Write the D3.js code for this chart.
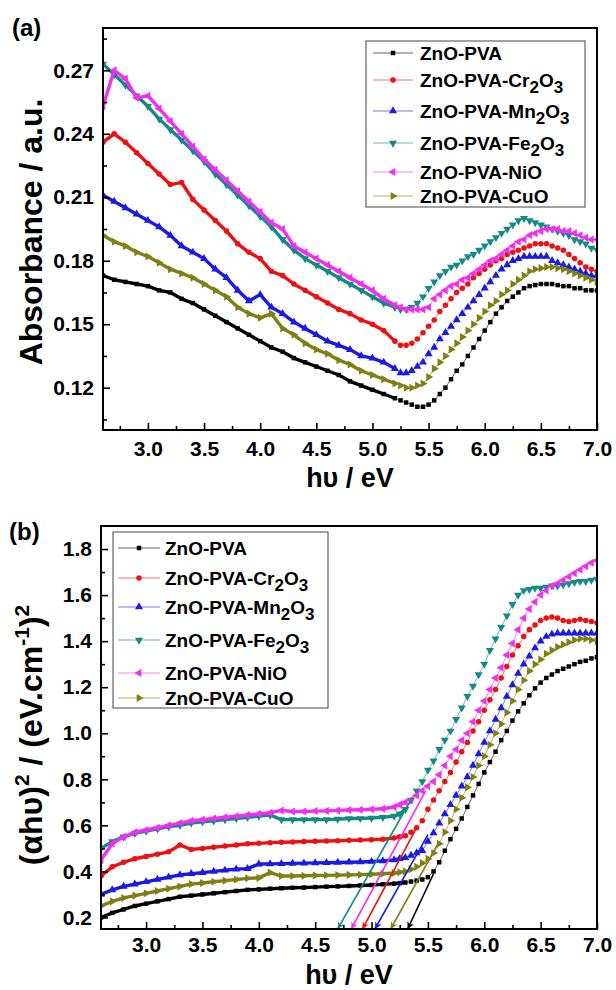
<!DOCTYPE html>
<html>
<head>
<meta charset="utf-8">
<script src="https://cdn.jsdelivr.net/npm/d3@7"></script>
<style>
  body { margin: 0; background: #fff; }
  text { font-family: "Liberation Sans", Arial, sans-serif; font-weight: bold; fill: #000; }
</style>
</head>
<body>
<svg id="chart" width="616" height="990"></svg>
<script>
// photon energy grid (eV), shared by both panels
const energy = [2.6,2.7,2.8,2.9,3.0,3.1,3.2,3.3,3.4,3.5,3.6,3.7,3.8,3.9,4.0,4.1,4.2,4.3,4.4,4.5,4.6,4.7,4.8,4.9,5.0,5.1,5.2,
  5.25,5.3,5.35,5.4,5.45,5.5,5.55,5.6,5.65,5.7,5.75,5.8,5.85,5.9,5.95,6.0,6.05,6.1,6.15,6.2,6.25,6.3,6.35,6.4,6.45,6.5,
  6.55,6.6,6.65,6.7,6.75,6.8,6.85,6.9,6.95,7.0]

const sampleNames = ['ZnO-PVA','ZnO-PVA-Cr_2O_3','ZnO-PVA-Mn_2O_3','ZnO-PVA-Fe_2O_3','ZnO-PVA-NiO','ZnO-PVA-CuO']

// (a) absorbance
const absZnO = [.173,.171,.170,.169,.168,.166,.165,.162,.160,.157,.154,.151,.148,.145,.142,.139,.137,.134,.132,.130,.128,.126,.123,.121,.119,.117,.115,
  .114,.113,.112,.111,.111,.112,.114,.117,.120,.124,.128,.131,.135,.139,.143,.147,.151,.155,.158,.161,.163,.165,.167,.168,.1685,.169,
  .169,.169,.1685,.168,.168,.167,.167,.166,.166,.166]
const absCr = [.236,.240,.236,.231,.226,.221,.216,.217,.209,.204,.199,.194,.188,.184,.181,.175,.173,.169,.166,.163,.160,.157,.155,.152,.150,.147,.142,
  .140,.140,.141,.143,.146,.149,.152,.156,.159,.162,.165,.167,.169,.172,.174,.176,.178,.180,.181,.183,.184,.185,.186,.187,.188,.188,
  .188,.187,.186,.185,.183,.181,.179,.177,.176,.175]
const absMn = [.211,.208,.205,.202,.199,.196,.192,.187,.184,.181,.176,.172,.166,.161,.164,.158,.155,.151,.148,.145,.142,.140,.138,.135,.134,.132,.129,
  .127,.127,.128,.130,.132,.136,.139,.143,.146,.149,.152,.155,.158,.161,.164,.167,.170,.173,.176,.178,.180,.181,.182,.182,.182,.182,
  .182,.180,.179,.178,.177,.176,.175,.174,.173,.173]
const absFe = [.273,.268,.263,.258,.253,.247,.242,.237,.232,.227,.221,.216,.211,.206,.201,.196,.190,.185,.181,.178,.175,.172,.169,.166,.163,.160,.158,
  .157,.157,.158,.160,.163,.167,.170,.173,.175,.177,.178,.180,.182,.183,.185,.187,.189,.191,.193,.195,.197,.199,.200,.199,.198,.197,
  .196,.195,.194,.193,.192,.190,.189,.188,.186,.185]
const absNi = [.253,.270,.266,.257,.258,.252,.246,.240,.234,.228,.223,.218,.213,.208,.203,.198,.195,.187,.184,.181,.178,.175,.172,.169,.166,.162,.159,
  .158,.157,.157,.157,.157,.158,.162,.164,.166,.168,.169,.171,.172,.174,.176,.178,.180,.181,.183,.185,.187,.189,.190,.192,.193,.194,
  .195,.195,.195,.194,.194,.193,.192,.191,.190,.190]
const absCu = [.192,.189,.187,.184,.182,.179,.176,.174,.172,.169,.166,.163,.158,.155,.153,.155,.148,.145,.141,.138,.136,.133,.131,.128,.126,.124,.122,
  .121,.120,.120,.121,.122,.125,.129,.132,.135,.138,.141,.144,.147,.150,.153,.156,.159,.161,.164,.166,.169,.171,.173,.175,.176,.1765,
  .177,.177,.1765,.176,.175,.174,.173,.172,.171,.170]

// (b) (alpha h nu)^2
const taucZnO = [.200,.220,.235,.250,.260,.270,.280,.290,.295,.300,.305,.310,.315,.320,.322,.325,.327,.329,.330,.332,.334,.335,.337,.339,.341,.344,.347,
  .349,.352,.356,.360,.365,.375,.400,.440,.490,.540,.585,.630,.680,.730,.780,.830,.875,.920,.970,1.010,1.055,1.095,1.130,1.165,1.195,1.220,
  1.240,1.255,1.270,1.280,1.290,1.300,1.310,1.315,1.325,1.330]
const taucCr = [.380,.420,.440,.455,.465,.475,.485,.515,.495,.500,.505,.510,.515,.520,.522,.525,.527,.528,.530,.531,.532,.533,.535,.536,.538,.540,.545,
  .550,.555,.570,.590,.620,.670,.710,.750,.790,.830,.875,.920,.960,1.010,1.050,1.100,1.145,1.190,1.240,1.290,1.340,1.380,1.420,1.450,1.470,1.490,
  1.500,1.505,1.500,1.490,1.485,1.490,1.495,1.490,1.485,1.480]
const taucMn = [.300,.320,.335,.345,.355,.365,.375,.385,.390,.395,.400,.405,.410,.412,.432,.433,.434,.435,.436,.437,.438,.439,.440,.441,.443,.446,.450,
  .455,.460,.470,.480,.490,.530,.567,.610,.650,.690,.730,.770,.810,.860,.910,.960,1.010,1.060,1.110,1.160,1.210,1.260,1.300,1.335,1.370,1.400,
  1.420,1.430,1.435,1.435,1.435,1.435,1.435,1.435,1.435,1.435]
const taucFe = [.500,.530,.550,.565,.575,.585,.595,.600,.610,.615,.620,.625,.630,.635,.640,.645,.625,.625,.625,.625,.625,.627,.630,.630,.632,.635,.640,
  .650,.670,.710,.750,.790,.840,.880,.930,.970,1.010,1.060,1.110,1.160,1.205,1.255,1.300,1.360,1.410,1.460,1.510,1.560,1.600,1.620,1.625,1.630,1.630,
  1.635,1.640,1.640,1.645,1.650,1.655,1.660,1.660,1.665,1.670]
const taucNi = [.450,.520,.550,.570,.580,.590,.600,.610,.620,.625,.630,.635,.640,.645,.650,.655,.665,.660,.660,.662,.663,.665,.667,.668,.670,.672,.680,
  .690,.700,.710,.730,.750,.770,.790,.820,.860,.900,.930,.970,1.000,1.050,1.100,1.140,1.190,1.240,1.285,1.340,1.390,1.450,1.500,1.540,1.570,1.600,
  1.620,1.640,1.650,1.665,1.680,1.695,1.710,1.725,1.740,1.750]
const taucCu = [.250,.270,.285,.295,.305,.315,.325,.335,.345,.350,.355,.360,.365,.370,.372,.395,.380,.380,.381,.382,.383,.384,.385,.386,.388,.390,.393,
  .396,.400,.410,.420,.437,.455,.480,.520,.570,.620,.670,.720,.765,.810,.860,.900,.950,1.000,1.040,1.090,1.140,1.190,1.230,1.270,1.300,1.320,
  1.345,1.360,1.375,1.385,1.395,1.405,1.410,1.410,1.405,1.400]

// band-gap tangents in (b): start point on the curve and x-intercept (eV)
const tangentFrom = [[5.55,0.39],[5.40,0.59],[5.50,0.56],[5.36,0.72],[5.48,0.75],[5.60,0.53]]
const tangentGap = [5.32,4.92,5.03,4.70,4.82,5.17]

const colors = ['#000000','#ee1111','#1a1ae6','#138a85','#f22ef2','#808012']
const shapes = [
  {type: d3.symbolSquare, size: 20, rot: 0},
  {type: d3.symbolCircle, size: 24, rot: 0},
  {type: d3.symbolTriangle, size: 28, rot: 0},
  {type: d3.symbolTriangle, size: 28, rot: 180},
  {type: d3.symbolTriangle, size: 28, rot: -90},
  {type: d3.symbolTriangle, size: 28, rot: 90}
]

const svg = d3.select('#chart')

// arrow heads, one per colour
const defs = svg.append('defs')
colors.forEach((c, i) => {
  defs.append('marker')
    .attr('id', 'arrow' + i)
    .attr('viewBox', '0 0 10 10')
    .attr('refX', 10).attr('refY', 5)
    .attr('markerWidth', 9).attr('markerHeight', 7)
    .attr('markerUnits', 'userSpaceOnUse')
    .attr('orient', 'auto')
    .append('path')
    .attr('d', 'M0,0 L10,5 L0,10 L3,5 Z')
    .attr('fill', c)
})

// writes "Cr_2O_3" style labels with subscripts
function richText(sel, label, subSize) {
  let down = false
  label.split(/(_\d)/).filter(p => p.length).forEach(p => {
    if (p[0] === '_') {
      sel.append('tspan').attr('dy', 6).attr('font-size', subSize).text(p.slice(1))
      down = true
    } else {
      sel.append('tspan').attr('dy', down ? -6 : 0).text(p)
      down = false
    }
  })
}

function Panel(cfg) {
  const b = cfg.box
  const x = d3.scaleLinear().domain([2.6, 7.0]).range([b.left, b.right])
  const y = d3.scaleLinear().domain(cfg.yDomain).range([b.bottom, b.top])

  const g = svg.append('g')

  g.append('clipPath').attr('id', 'clip' + cfg.id)
    .append('rect')
    .attr('x', b.left).attr('y', b.top)
    .attr('width', b.right - b.left).attr('height', b.bottom - b.top)

  const plot = g.append('g').attr('clip-path', `url(#clip${cfg.id})`)

  const line = d3.line().x(d => x(d[0])).y(d => y(d[1]))

  cfg.series.forEach((vals, i) => {
    const pts = energy.map((e, j) => [e, vals[j]])
    // dense part of the scan looks like a thick band
    plot.append('path')
      .datum(pts.filter(d => d[0] <= cfg.denseEnd))
      .attr('d', line)
      .attr('fill', 'none')
      .attr('stroke', colors[i])
      .attr('stroke-width', 3.4)
      .attr('stroke-linejoin', 'round')
    plot.append('path')
      .datum(pts)
      .attr('d', line)
      .attr('fill', 'none')
      .attr('stroke', colors[i])
      .attr('stroke-opacity', 0.6)
      .attr('stroke-width', 1)
    const sym = d3.symbol(shapes[i].type, shapes[i].size)
    plot.append('g').selectAll('path')
      .data(pts)
      .join('path')
      .attr('transform', d => `translate(${x(d[0])},${y(d[1])}) rotate(${shapes[i].rot})`)
      .attr('d', sym)
      .attr('fill', colors[i])
  })

  if (cfg.tangents) {
    tangentFrom.forEach((p, i) => {
      plot.append('line')
        .attr('x1', x(p[0])).attr('y1', y(p[1]))
        .attr('x2', x(tangentGap[i])).attr('y2', y(cfg.yDomain[0]))
        .attr('stroke', colors[i])
        .attr('stroke-width', 1.6)
        .attr('marker-end', `url(#arrow${i})`)
    })
  }

  // axes, ticks inward
  const xAxis = d3.axisBottom(x)
    .tickValues(d3.range(3.0, 7.01, 0.5))
    .tickFormat(d3.format('.1f'))
    .tickSizeInner(-7).tickSizeOuter(0).tickPadding(cfg.xPad)
  const xMinor = d3.axisBottom(x)
    .tickValues(d3.range(2.75, 7.0, 0.5))
    .tickFormat('').tickSizeInner(-4).tickSizeOuter(0)
  const yAxis = d3.axisLeft(y)
    .tickValues(cfg.yTicks)
    .tickFormat(d3.format(cfg.yFormat))
    .tickSizeInner(-7).tickSizeOuter(0).tickPadding(9)
  const yMinor = d3.axisLeft(y)
    .tickValues(cfg.yMinor)
    .tickFormat('').tickSizeInner(-4).tickSizeOuter(0)

  g.append('g').attr('transform', `translate(0,${b.bottom})`).call(xMinor)
  g.append('g').attr('transform', `translate(0,${b.bottom})`).call(xAxis)
  g.append('g').attr('transform', `translate(${b.left},0)`).call(yMinor)
  g.append('g').attr('transform', `translate(${b.left},0)`).call(yAxis)

  g.selectAll('.tick line').attr('stroke', '#000').attr('stroke-width', 1.6)
  g.selectAll('.domain').remove()
  g.selectAll('.tick text').attr('font-size', 21).attr('font-family', '"Liberation Sans", Arial, sans-serif').attr('font-weight', 'bold')

  g.append('rect')
    .attr('x', b.left).attr('y', b.top)
    .attr('width', b.right - b.left).attr('height', b.bottom - b.top)
    .attr('fill', 'none').attr('stroke', '#000').attr('stroke-width', 2)

  // legend
  const L = cfg.legend
  g.append('rect')
    .attr('x', L.x0).attr('y', L.y0)
    .attr('width', L.x1 - L.x0).attr('height', L.y1 - L.y0)
    .attr('fill', '#fff').attr('stroke', '#444').attr('stroke-width', 1)
  sampleNames.forEach((name, i) => {
    const ry = L.rows[i]
    g.append('line')
      .attr('x1', L.s0).attr('x2', L.s1).attr('y1', ry).attr('y2', ry)
      .attr('stroke', colors[i]).attr('stroke-opacity', 0.6).attr('stroke-width', 1)
    g.append('path')
      .attr('transform', `translate(${(L.s0 + L.s1) / 2},${ry}) rotate(${shapes[i].rot})`)
      .attr('d', d3.symbol(shapes[i].type, shapes[i].size)())
      .attr('fill', colors[i])
    const t = g.append('text').attr('x', L.tx).attr('y', ry + 7).attr('font-size', 19)
    richText(t, name, 17)
  })

  // titles
  g.append('text')
    .attr('x', (b.left + b.right) / 2).attr('y', cfg.xTitleY)
    .attr('text-anchor', 'middle').attr('font-size', 27)
    .text('h\u03c5 / eV')
  const yt = g.append('text')
    .attr('transform', `translate(${cfg.yTitleX},${cfg.yTitleY}) rotate(-90)`)
    .attr('text-anchor', 'middle').attr('font-size', 32)
  cfg.yTitle(yt)

  g.append('text')
    .attr('x', cfg.tag[0]).attr('y', cfg.tag[1])
    .attr('font-size', 24)
    .text(cfg.tag[2])
}

Panel({
  id: 'a',
  box: {left: 103, right: 597, top: 28, bottom: 430},
  yDomain: [0.10, 0.29],
  yTicks: [0.12, 0.15, 0.18, 0.21, 0.24, 0.27],
  yMinor: [0.105, 0.135, 0.165, 0.195, 0.225, 0.255, 0.285],
  yFormat: '.2f',
  series: [absZnO, absCr, absMn, absFe, absNi, absCu],
  denseEnd: 5.2,
  legend: {x0: 366, y0: 41, x1: 585, y1: 207, s0: 373, s1: 413, tx: 420, rows: [53, 80, 111, 143, 172, 196]},
  xPad: 11,
  xTitleY: 487,
  yTitleX: 42, yTitleY: 232,
  yTitle: t => t.text('Absorbance / a.u.'),
  tag: [12, 36, '(a)']
})

Panel({
  id: 'b',
  box: {left: 101, right: 597, top: 526, bottom: 929},
  yDomain: [0.15, 1.9],
  yTicks: [0.2, 0.4, 0.6, 0.8, 1.0, 1.2, 1.4, 1.6, 1.8],
  yMinor: [0.3, 0.5, 0.7, 0.9, 1.1, 1.3, 1.5, 1.7],
  yFormat: '.1f',
  series: [taucZnO, taucCr, taucMn, taucFe, taucNi, taucCu],
  denseEnd: 5.3,
  tangents: true,
  legend: {x0: 113, y0: 532, x1: 328, y1: 708, s0: 118, s1: 160, tx: 165, rows: [548, 578, 607, 640, 673, 698]},
  xPad: 8,
  xTitleY: 984,
  yTitleX: 42, yTitleY: 735,
  yTitle: t => {
    t.append('tspan').text('(\u03b1h\u03c5)')
    t.append('tspan').attr('dy', -13).attr('font-size', 21).text('2')
    t.append('tspan').attr('dy', 13).text(' / (eV.cm')
    t.append('tspan').attr('dy', -13).attr('font-size', 21).text('-1')
    t.append('tspan').attr('dy', 13).text(')')
    t.append('tspan').attr('dy', -13).attr('font-size', 21).text('2')
  },
  tag: [9, 540, '(b)']
})
</script>
</body>
</html>
